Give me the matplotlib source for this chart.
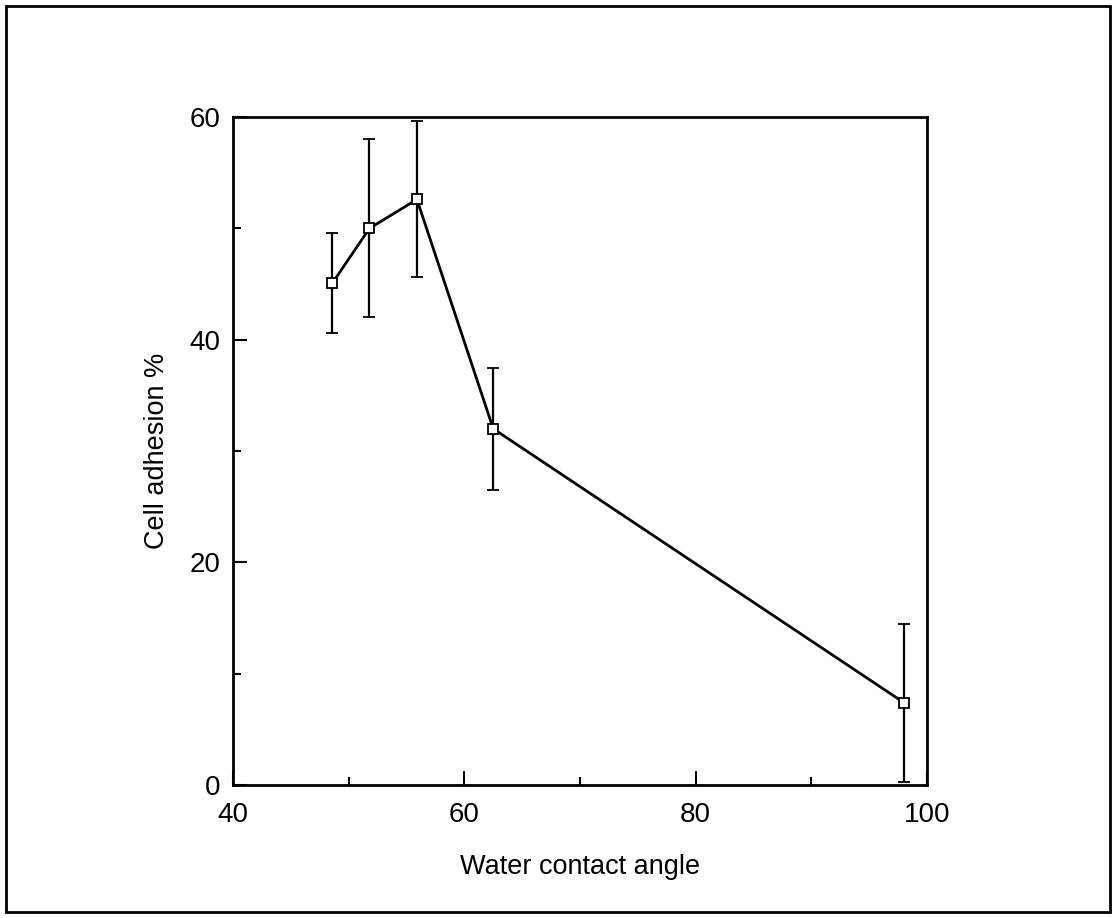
import numpy as np
import matplotlib.pyplot as plt
from matplotlib.patches import Rectangle
from matplotlib.ticker import MultipleLocator

# Werte
contact_angle = [48.6, 51.8, 55.9, 62.5, 98.0]
adhesion = [45.1, 50.0, 52.6, 32.0, 7.4]
adhesion_err = [4.5, 8.0, 7.0, 5.5, 7.1]

plt.rcParams['font.family'] = ['Liberation Sans', 'DejaVu Sans']

fig = plt.figure(figsize=(11.17, 9.18), dpi=100)
ax = fig.add_axes([0.2086, 0.1449, 0.6213, 0.7276])

ax.errorbar(contact_angle, adhesion, yerr=adhesion_err, color='black',
            linewidth=2, elinewidth=1.6, capsize=4.5, capthick=2,
            marker='s', markersize=7, markerfacecolor='white',
            markeredgecolor='black', markeredgewidth=1.3)

ax.set_xlim(40, 100)
ax.set_ylim(0, 60)
ax.xaxis.set_major_locator(MultipleLocator(20))
ax.xaxis.set_minor_locator(MultipleLocator(10))
ax.yaxis.set_major_locator(MultipleLocator(20))
ax.yaxis.set_minor_locator(MultipleLocator(10))
ax.tick_params(which='both', direction='in', top=False, right=False,
               labelsize=20, width=1.5)
ax.tick_params(which='major', length=10, pad=9)
ax.tick_params(axis='x', which='major', pad=12)
ax.tick_params(which='minor', length=6)
for s in ax.spines.values():
    s.set_linewidth(2)

ax.set_xlabel('Water contact angle', fontsize=19.5, labelpad=19)
ax.set_ylabel('Cell adhesion %', fontsize=19.5, labelpad=14)

# Rahmen um die ganze Abbildung
fig.patches.append(Rectangle((0.005, 0.007), 0.989, 0.986,
                             transform=fig.transFigure, fill=False,
                             edgecolor='black', linewidth=2))

fig.savefig('out.png', dpi=100)
